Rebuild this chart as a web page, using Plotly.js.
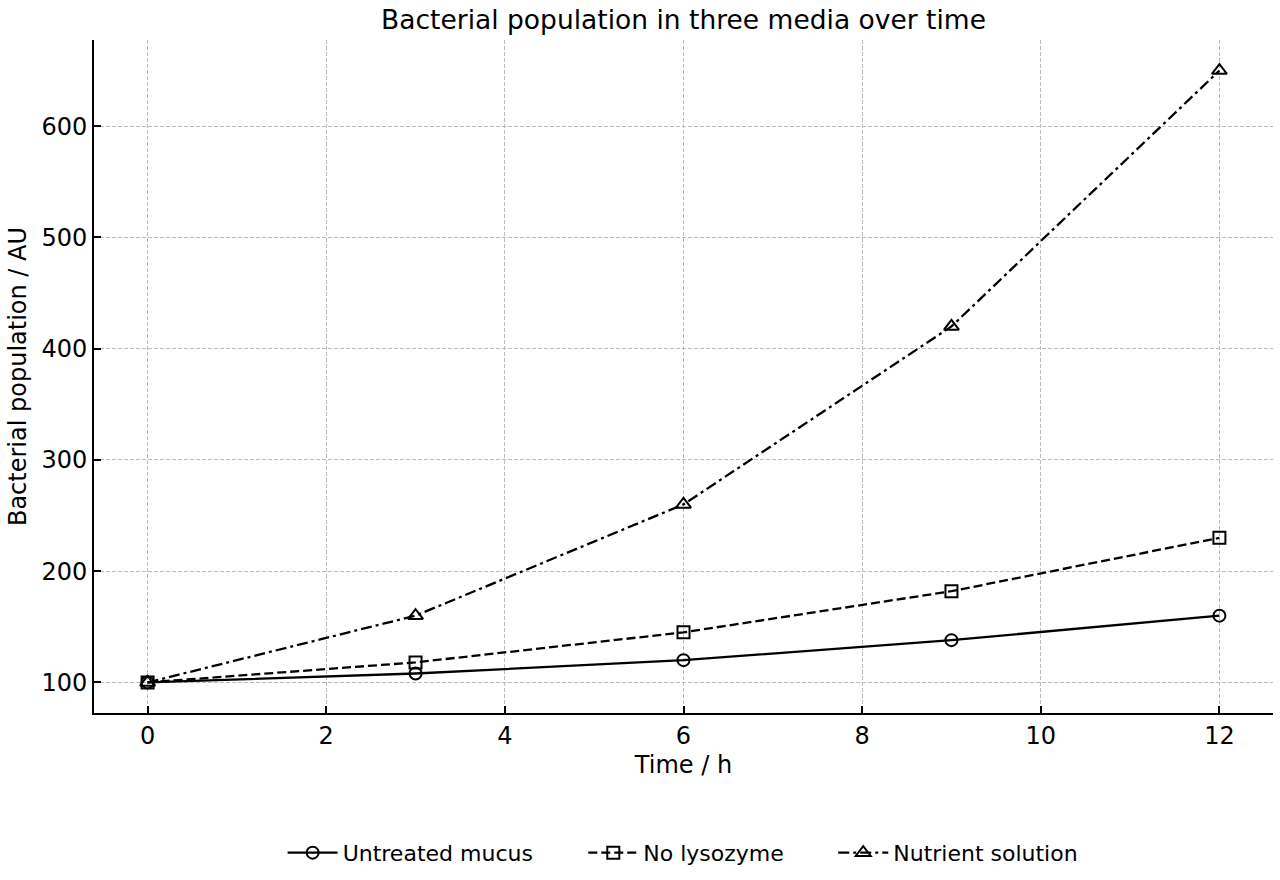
<!DOCTYPE html>
<html>
<head>
<meta charset="utf-8">
<script src="https://cdn.plot.ly/plotly-3.0.1.min.js"></script>
<style>
  html, body { margin: 0; padding: 0; background: #fff; }
  #chart { width: 1280px; height: 880px; }
</style>
</head>
<body>
<div id="chart"></div>
<script>
// Sampling times (hours)
const timeHours = [0, 3, 6, 9, 12];

// Bacterial population (arbitrary units) per medium
const untreatedMucus = [100, 108, 120, 138, 160];
const noLysozyme = [100, 118, 145, 182, 230];
const nutrientSolution = [100, 160, 260, 420, 650];

const seriesNames = ['Untreated mucus', 'No lysozyme', 'Nutrient solution'];

const font = 'DejaVu Sans, sans-serif';

const styles = [
  { dash: 'solid', symbol: 'circle-open', size: 12 },
  { dash: '9px,4px', symbol: 'square-open', size: 12 },
  { dash: '11px,4px,3px,4px', symbol: 'triangle-up-open', size: 13 }
];
const values = [untreatedMucus, noLysozyme, nutrientSolution];
const legendIds = ['legend', 'legend2', 'legend3'];

const traces = values.map((ys, i) => ({
  type: 'scatter',
  mode: 'lines+markers',
  name: seriesNames[i],
  legend: legendIds[i],
  x: timeHours,
  y: ys,
  line: { color: '#000', width: 2.3, dash: styles[i].dash },
  marker: { symbol: styles[i].symbol, size: styles[i].size, color: '#000', line: { color: '#000', width: 2 } },
  cliponaxis: false
}));

const axisCommon = {
  showline: true,
  linecolor: '#000',
  linewidth: 2,
  ticks: 'inside',
  ticklen: 7,
  tickwidth: 2,
  tickcolor: '#000',
  showgrid: true,
  gridcolor: '#bdbdbd',
  gridwidth: 1,
  griddash: '4px,2px',
  zeroline: false,
  mirror: false,
  tickfont: { family: font, size: 24, color: '#000' }
};

const legendBase = {
  orientation: 'h',
  yanchor: 'middle',
  y: -0.206,
  xanchor: 'left',
  font: { family: font, size: 22, color: '#000' },
  itemwidth: 50,
  bgcolor: 'rgba(0,0,0,0)'
};

const layout = {
  width: 1280,
  height: 880,
  paper_bgcolor: '#fff',
  plot_bgcolor: '#fff',
  margin: { l: 94, r: 7, t: 40, b: 166 },
  title: {
    text: 'Bacterial population in three media over time',
    font: { family: font, size: 26.5, color: '#000' },
    x: 0.534, xanchor: 'center', y: 0.978, yanchor: 'middle'
  },
  xaxis: Object.assign({}, axisCommon, {
    range: [-0.6, 12.6],
    tickvals: [0, 2, 4, 6, 8, 10, 12],
    title: { text: 'Time / h', font: { family: font, size: 24, color: '#000' }, standoff: 7 }
  }),
  yaxis: Object.assign({}, axisCommon, {
    range: [72.5, 677.5],
    tickvals: [100, 200, 300, 400, 500, 600],
    title: { text: 'Bacterial population / AU', font: { family: font, size: 24, color: '#000' }, standoff: 8 }
  }),
  showlegend: true,
  legend: Object.assign({}, legendBase, { x: 0.160 }),
  legend2: Object.assign({}, legendBase, { x: 0.415 }),
  legend3: Object.assign({}, legendBase, { x: 0.627 })
};

Plotly.newPlot('chart', traces, layout, { displayModeBar: false, staticPlot: true });
</script>
</body>
</html>
